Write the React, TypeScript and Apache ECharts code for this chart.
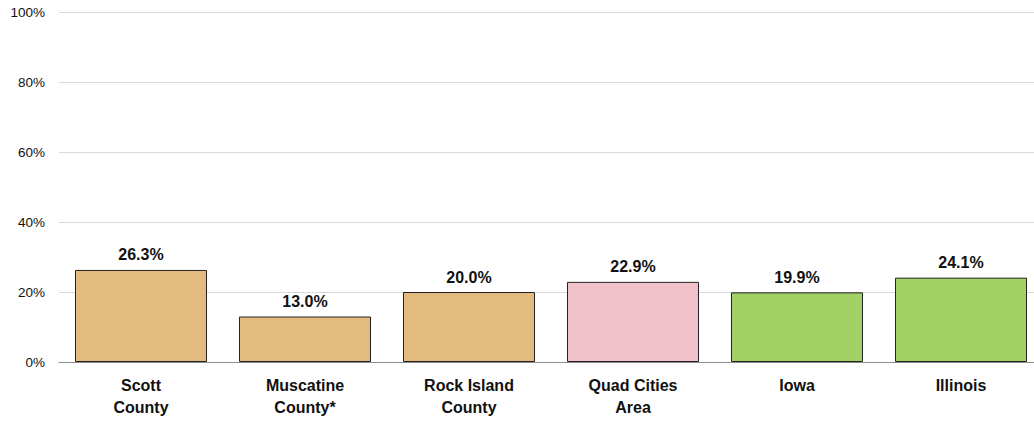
import React, { useEffect, useRef } from "react";
import * as echarts from "echarts";

const categories = ["Scott\nCounty", "Muscatine\nCounty*", "Rock Island\nCounty", "Quad Cities\nArea", "Iowa", "Illinois"];
const values = [26.3, 13.0, 20.0, 22.9, 19.9, 24.1];
const barColors = ["#e4bb7f", "#e4bb7f", "#e4bb7f", "#f0c1c9", "#a2d266", "#a2d266"];
const yTicks = [0, 20, 40, 60, 80, 100];

const FONT = "'Liberation Sans', Arial, sans-serif";

export default function App() {
  const ref = useRef<HTMLDivElement>(null);
  useEffect(() => {
    if (!ref.current) return;
    const chart = echarts.init(ref.current, undefined, { renderer: "svg" });
    chart.setOption({
      animation: false,
      backgroundColor: "#ffffff",
      grid: {
        left: 59,
        width: 984,
        top: 12,
        height: 350,
        containLabel: false,
        outerBoundsMode: "none",
      },
      xAxis: {
        type: "category",
        data: categories,
        axisLine: { show: true, lineStyle: { color: "#8c8c8c", width: 1 } },
        axisTick: { show: false },
        axisLabel: {
          margin: 12,
          color: "#111",
          fontFamily: FONT,
          fontWeight: "bold",
          fontSize: 16,
          lineHeight: 22,
          interval: 0,
        },
      },
      yAxis: {
        type: "value",
        min: yTicks[0],
        max: yTicks[yTicks.length - 1],
        interval: 20,
        axisLine: { show: false },
        axisTick: { show: false },
        splitLine: { lineStyle: { color: "#d9d9d9", width: 1 } },
        axisLabel: {
          margin: 14,
          color: "#111",
          fontFamily: FONT,
          fontSize: 13.5,
          formatter: (v: number) => `${v}%`,
        },
      },
      series: [
        {
          type: "bar",
          barCategoryGap: "19.5%",
          data: values.map((v, i) => ({
            value: v,
            itemStyle: { color: barColors[i], borderColor: "#222", borderWidth: 1 },
          })),
          label: {
            show: true,
            position: "top",
            distance: 7,
            color: "#111",
            fontFamily: FONT,
            fontWeight: "bold",
            fontSize: 16,
            formatter: (p: any) => `${p.value.toFixed(1)}%`,
          },
        },
      ],
    });
    return () => chart.dispose();
  }, []);
  return (
    <div
      ref={ref}
      style={{ position: "fixed", left: 0, top: 0, width: 1034, height: 421 }}
    />
  );
}
